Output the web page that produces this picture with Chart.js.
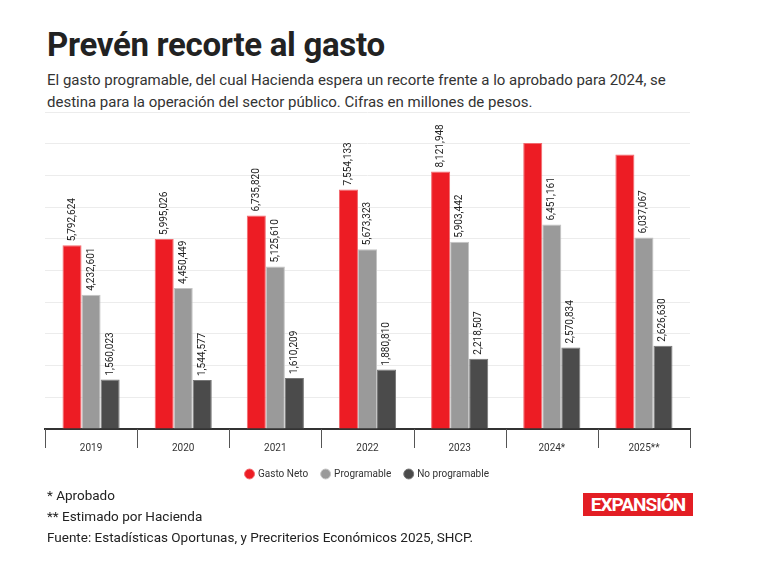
<!DOCTYPE html>
<html><head><meta charset="utf-8">
<script src="https://cdn.jsdelivr.net/npm/chart.js@4"></script>
<style>
body{margin:0;width:764px;height:577px;background:#fff;font-family:Roboto,sans-serif;position:relative;overflow:hidden}
h1{position:absolute;left:47px;top:25px;margin:0;font-size:33px;font-weight:700;color:#222;letter-spacing:-0.3px}
.sub{position:absolute;left:47px;top:69px;width:625px;font-size:15px;line-height:22px;color:#333}
.foot{position:absolute;left:47px;top:485px;font-size:13.5px;line-height:20.8px;color:#222}
.logo{position:absolute;left:583px;top:493px;width:110px;height:23px;background:#e31e24;color:#fff;font-weight:700;font-size:19px;line-height:23px;text-align:center;letter-spacing:-1px}
#wrap{position:absolute;left:0;top:100px;width:764px;height:389px}
</style></head><body>
<h1>Prevén recorte al gasto</h1>
<div class="sub">El gasto programable, del cual Hacienda espera un recorte frente a lo aprobado para 2024, se destina para la operación del sector público. Cifras en millones de pesos.</div>
<div id="wrap"><canvas id="c"></canvas></div>
<div class="foot">* Aprobado<br>** Estimado por Hacienda<br>Fuente: Estadísticas Oportunas, y Precriterios Económicos 2025, SHCP.</div>
<div class="logo">EXPANSIÓN</div>
<script>
const years = ['2019', '2020', '2021', '2022', '2023', '2024*', '2025**'];
const gastoNeto = [5792624, 5995026, 6735820, 7554133, 8121948, 9022000, 8660000];
const programable = [4232601, 4450449, 5125610, 5673323, 5903442, 6451161, 6037067];
const noProgramable = [1560023, 1544577, 1610209, 1880810, 2218507, 2570834, 2626630];

const valueLabels = {
  id: 'valueLabels',
  afterDatasetsDraw(chart) {
    const ctx = chart.ctx;
    ctx.save();
    ctx.font = '10px Roboto, sans-serif';
    ctx.fillStyle = '#222';
    ctx.textAlign = 'left';
    ctx.textBaseline = 'middle';
    chart.data.datasets.forEach((ds, i) => {
      chart.getDatasetMeta(i).data.forEach((bar, j) => {
        const txt = ds.data[j].toLocaleString('en-US');
        const w = ctx.measureText(txt).width;
        if (bar.y - 4 - w < chart.chartArea.top) return;
        ctx.save();
        ctx.translate(bar.x, bar.y - 4);
        ctx.rotate(-Math.PI / 2);
        ctx.fillText(txt, 0, 0);
        ctx.restore();
      });
    });
    // category separators below the axis
    const x = chart.scales.x, bottom = chart.chartArea.bottom;
    const step = x.width / years.length;
    ctx.strokeStyle = '#555';
    ctx.lineWidth = 1;
    for (let k = 0; k <= years.length; k++) {
      const px = Math.round(x.left + k * step) + 0.5;
      ctx.beginPath();
      ctx.moveTo(px, bottom);
      ctx.lineTo(px, bottom + 19);
      ctx.stroke();
    }
    ctx.restore();
  }
};

new Chart(document.getElementById('c'), {
  type: 'bar',
  data: {
    labels: years,
    datasets: [
      { label: 'Gasto Neto', data: gastoNeto, backgroundColor: '#ed1c24', borderColor: '#f26a6f', borderWidth: 1 },
      { label: 'Programable', data: programable, backgroundColor: '#9a9a9a', borderColor: '#c4c4c4', borderWidth: 1 },
      { label: 'No programable', data: noProgramable, backgroundColor: '#4b4b4b', borderColor: '#777', borderWidth: 1 }
    ]
  },
  options: {
    responsive: true,
    maintainAspectRatio: false,
    animation: false,
    layout: { padding: { left: 45, right: 74, top: 12, bottom: 0 } },
    datasets: { bar: { barPercentage: 1, categoryPercentage: 0.62 } },
    plugins: {
      legend: {
        position: 'bottom',
        labels: { usePointStyle: true, pointStyle: 'circle', boxWidth: 7, boxHeight: 7, color: '#333', font: { size: 10, family: 'Roboto' }, padding: 14 }
      },
      tooltip: { enabled: false }
    },
    scales: {
      y: {
        min: 0, max: 10000000,
        ticks: { display: false, stepSize: 1000000 },
        grid: { color: '#ececec', drawTicks: false },
        border: { display: false }
      },
      x: {
        offset: true,
        grid: { display: false },
        border: { color: '#333', width: 2 },
        ticks: { color: '#333', font: { size: 10, family: 'Roboto' }, padding: 5 },
        afterFit(s) { s.height = 26; }
      }
    }
  },
  plugins: [valueLabels]
});
</script>
</body></html>
